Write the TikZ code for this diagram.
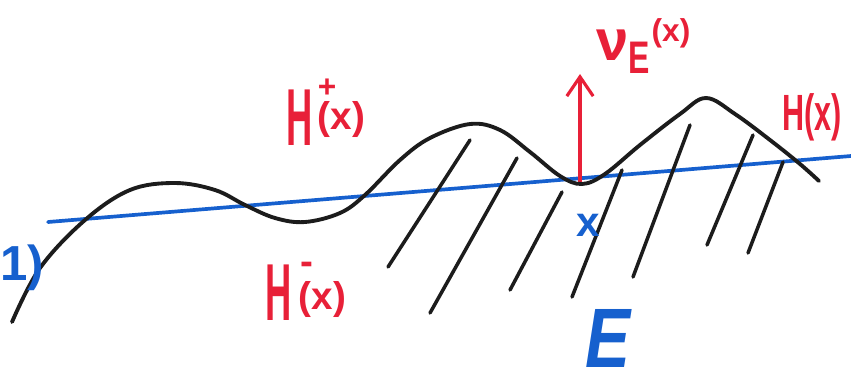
\documentclass[tikz,border=0pt]{standalone}
\usepackage{fontspec}
\setmainfont{Liberation Sans}
\usepackage{graphicx}
\usetikzlibrary{arrows.meta}
\definecolor{penred}{RGB}{232,32,56}
\definecolor{penblue}{RGB}{22,96,206}
\definecolor{penblack}{RGB}{28,28,28}
\newcommand{\fs}[1]{\fontsize{#1}{#1}\selectfont}
\tikzset{
  curve/.style={penblack,line width=2.2pt,line cap=round,line join=round},
  hatch/.style={penblack,line width=2pt,line cap=round},
  plane/.style={penblue,line width=2.1pt,line cap=round},
  redlab/.style={penred,inner sep=0pt,font=\bfseries},
  bluelab/.style={penblue,inner sep=0pt,font=\bfseries}
}
\begin{document}
\begin{tikzpicture}[x=0.02cm,y=-0.02cm]
\useasboundingbox (0,0) rectangle (851,380);
\coordinate (pl) at (48,222);
\coordinate (pr) at (851,156);
\draw[plane] (pl) -- (pr);
\coordinate (foot) at (580,183);
\coordinate (tip) at (580,74);
\draw[penred,line width=1.8pt,-{Straight Barb[length=11pt,width=15pt]}] (foot) -- (tip);
\draw[curve] plot[smooth,tension=0.6] coordinates {(12,322) (40,268) (85,220) (130,190) (175,183) (215,190) (245,205) (275,218) (305,222) (340,213) (365,195) (400,160) (430,138) (470,124) (500,130) (530,152) (560,176) (582,184) (605,174) (640,145) (680,114) (706,98) (735,114) (770,140) (800,164) (819,181)};
\draw[hatch] (470,140) -- (388,267);
\draw[hatch] (517,158) -- (430,313);
\draw[hatch] (562,192) -- (510,290);
\draw[hatch] (622,170) -- (572,297);
\draw[hatch] (690,125) -- (633,277);
\draw[hatch] (753,135) -- (707,245);
\draw[hatch] (783,162) -- (748,253);
\node[redlab,anchor=base west] (hplus) at (286,145) {\scalebox{0.45}[1]{\fs{46}H}\kern3pt\raisebox{9pt}{\fs{22}\rlap{\raisebox{18pt}{\fs{18}+}}(x)}};
\node[redlab,anchor=base west] (hminus) at (265,320) {\scalebox{0.45}[1]{\fs{46}H}\kern4pt\raisebox{6pt}{\fs{22}\rlap{\raisebox{20pt}{\kern1pt-}}(x)}};
\node[redlab,anchor=base west] (nu) at (596,60) {\fs{33}ν\kern0pt\raisebox{-7.4pt}{\scalebox{0.7}[1]{\fs{26}E}}\kern1pt\raisebox{10.8pt}{\fs{18}(x)}};
\node[redlab,anchor=base west] (hx) at (782,130) {\scalebox{0.6}[1]{\fs{29}H(x)}};
\node[bluelab,anchor=base] (xpt) at (588,236) {\fs{24}x};
\node[bluelab,anchor=base west] (eset) at (585,367) {\scalebox{0.8}[1]{\fs{48}\itshape E}};
\node[bluelab,anchor=base west] (one) at (0,280) {\fs{28}1)};
\end{tikzpicture}
\end{document}
